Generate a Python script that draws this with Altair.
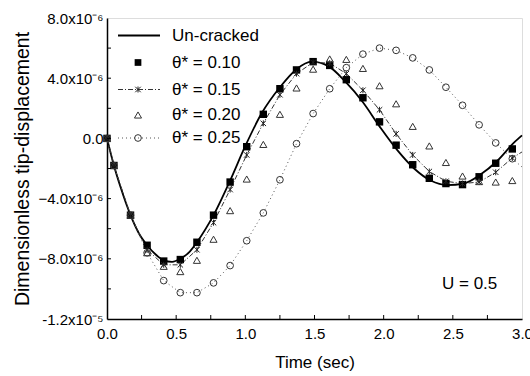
import altair as alt
import pandas as pd

# time of the plotted markers (sec)
T_MARK = [0.0, 0.05, 0.17, 0.29, 0.41, 0.53, 0.65, 0.77, 0.89, 1.01, 1.13, 1.25, 1.37,
          1.49, 1.61, 1.73, 1.85, 1.97, 2.09, 2.21, 2.33, 2.45, 2.57, 2.69, 2.81, 2.93]

# values in units of 1e-6
Y_010 = [0.0, -1.8, -5.1, -7.1, -8.15, -8.05, -6.9, -5.1, -2.9, -0.55, 1.6, 3.3, 4.55,
         5.1, 4.85, 3.9, 2.7, 1.1, -0.45, -1.75, -2.65, -3.0, -3.07, -2.55, -1.65, -0.7]
Y_015 = [0.0, -1.8, -5.1, -7.4, -8.4, -8.4, -7.4, -5.6, -3.4, -1.1, 1.0, 2.9, 4.3,
         5.05, 5.0, 4.3, 3.2, 1.9, 0.3, -1.1, -2.2, -2.85, -3.0, -2.9, -2.25, -1.3]
Y_020 = [0.0, -1.8, -5.1, -7.6, -8.5, -8.85, -8.1, -6.7, -4.8, -2.7, -0.4, 1.6, 3.35,
         4.6, 5.28, 5.25, 4.65, 3.5, 2.3, 0.8, -0.5, -1.6, -2.5, -2.87, -2.9, -2.8]
Y_025 = [0.0, -1.8, -5.1, -7.6, -9.45, -10.25, -10.25, -9.6, -8.45, -6.8, -4.95, -2.75, -0.35,
         1.65, 3.3, 4.7, 5.6, 6.0, 5.85, 5.35, 4.55, 3.4, 2.2, 0.9, -0.3, -1.35]
END_015 = -0.9
END_025 = -1.9

T_UNC = [0.0, 0.05, 0.1, 0.17, 0.23, 0.29, 0.35, 0.41, 0.47, 0.53, 0.6, 0.65, 0.77, 0.89,
         1.0, 1.12, 1.25, 1.37, 1.48, 1.6, 1.72, 1.85, 1.97, 2.1, 2.22, 2.34, 2.46, 2.58,
         2.7, 2.82, 2.94, 3.0]
Y_UNC = [0.0, -1.8, -3.3, -5.1, -6.3, -7.1, -7.7, -8.1, -8.2, -8.0, -7.5, -6.9, -5.1, -2.8,
         -0.5, 1.7, 3.4, 4.6, 5.1, 4.8, 3.8, 2.4, 0.8, -0.8, -2.0, -2.8, -3.1, -3.0,
         -2.4, -1.5, -0.3, 0.2]

X_TICKS = [0.0, 0.5, 1.0, 1.5, 2.0, 2.5, 3.0]
X_MINOR = [0.25, 0.5, 0.75, 1.0, 1.25, 1.5, 1.75, 2.0, 2.25, 2.5, 2.75]
Y_TICKS = [-12, -8, -4, 0, 4, 8]
Y_MINOR = [-10, -8, -6, -4, -2, 0, 2, 4, 6]

LEGEND = ["Un-cracked", "θ* = 0.10", "θ* = 0.15", "θ* = 0.20", "θ* = 0.25"]

W, H = 415, 301
FONT = "Liberation Sans"
ASTER = "M-1,-1L1,1M-1,1L1,-1M0,-1.1L0,1.1"

unc = pd.DataFrame({"t": T_UNC, "y": Y_UNC})
m010 = pd.DataFrame({"t": T_MARK, "y": Y_010})
m015 = pd.DataFrame({"t": T_MARK, "y": Y_015})
m020 = pd.DataFrame({"t": T_MARK, "y": Y_020})
m025 = pd.DataFrame({"t": T_MARK, "y": Y_025})
l015 = pd.DataFrame({"t": T_MARK + [3.0], "y": Y_015 + [END_015]})
l025 = pd.DataFrame({"t": T_MARK + [3.0], "y": Y_025 + [END_025]})

xs = alt.Scale(domain=[0, 3], nice=False, zero=False)
ys = alt.Scale(domain=[-12, 8], nice=False, zero=False)

y_label = ("datum.value == 0 ? '0.0' : datum.value == -12 ? '-1.2x10⁻⁵' : "
           "format(datum.value, '.1f') + 'x10⁻⁶'")

X = alt.X("t:Q", scale=xs, axis=alt.Axis(
    values=X_TICKS, format=".1f", tickSize=0, grid=False, title="Time (sec)",
    labelFontSize=15, titleFontSize=17, labelPadding=7, titlePadding=13,
    domainColor="black", domainWidth=1.5, labelColor="black", titleColor="black",
    titleFontWeight="normal", labelFont=FONT, titleFont=FONT, labelFlush=False))
Y = alt.Y("y:Q", scale=ys, axis=alt.Axis(
    values=Y_TICKS, labelExpr=y_label, tickSize=0, grid=False,
    title="Dimensionless tip-displacement", labelFontSize=15, titleFontSize=19.5,
    labelPadding=4, titlePadding=6, domainColor="black", domainWidth=1.5,
    labelColor="black", titleColor="black", titleFontWeight="normal",
    labelFont=FONT, titleFont=FONT, labelFlush=False))
Xn = alt.X("t:Q", scale=xs)
Yn = alt.Y("y:Q", scale=ys)

layers = []
layers.append(alt.Chart(unc).mark_line(color="black", strokeWidth=1.8,
                                       interpolate="monotone").encode(x=X, y=Y))
layers.append(alt.Chart(l015).mark_line(color="#333", strokeWidth=1,
                                        strokeDash=[5, 2, 1, 2]).encode(x=Xn, y=Yn))
layers.append(alt.Chart(l025).mark_line(color="#555", strokeWidth=1,
                                        strokeDash=[1, 3]).encode(x=Xn, y=Yn))
layers.append(alt.Chart(m010).mark_point(shape="square", filled=True, color="black",
                                         size=55, opacity=1).encode(x=Xn, y=Yn))
layers.append(alt.Chart(m015).mark_point(shape=ASTER, filled=False, color="#222",
                                         size=30, strokeWidth=1, opacity=1).encode(x=Xn, y=Yn))
layers.append(alt.Chart(m020).mark_point(shape="triangle-up", filled=False, color="#333",
                                         size=50, strokeWidth=1, opacity=1).encode(x=Xn, y=Yn))
layers.append(alt.Chart(m025).mark_point(shape="circle", filled=False, color="#333",
                                         size=45, strokeWidth=1, opacity=1).encode(x=Xn, y=Yn))

# minor / major inward ticks
xt = pd.DataFrame({"t": X_MINOR})
yt = pd.DataFrame({"y": Y_MINOR})
layers.append(alt.Chart(xt).mark_rule(color="black", strokeWidth=1).encode(
    x=Xn, y=alt.value(H), y2=alt.value(H - 4)))
layers.append(alt.Chart(yt).mark_rule(color="black", strokeWidth=1).encode(
    y=Yn, x=alt.value(0), x2=alt.value(4)))

# legend
rows = [17.5, 44.5, 71.5, 97, 120]
lx0, lx1, sx, tx = 11, 53, 31, 65
one = pd.DataFrame({"k": [0]})
layers.append(alt.Chart(one).mark_rule(color="black", strokeWidth=1.8).encode(
    x=alt.value(lx0), x2=alt.value(lx1), y=alt.value(rows[0])))
layers.append(alt.Chart(one).mark_rule(color="#333", strokeWidth=1, strokeDash=[5, 2, 1, 2]).encode(
    x=alt.value(lx0), x2=alt.value(lx1), y=alt.value(rows[2])))
layers.append(alt.Chart(one).mark_rule(color="#555", strokeWidth=1, strokeDash=[1, 3]).encode(
    x=alt.value(lx0), x2=alt.value(lx1), y=alt.value(rows[4])))
layers.append(alt.Chart(one).mark_point(shape="square", filled=True, color="black",
                                        size=45, opacity=1).encode(x=alt.value(sx), y=alt.value(rows[1])))
layers.append(alt.Chart(one).mark_point(shape=ASTER, filled=False, color="#222", size=30,
                                        strokeWidth=1, opacity=1).encode(x=alt.value(sx), y=alt.value(rows[2])))
layers.append(alt.Chart(one).mark_point(shape="triangle-up", filled=False, color="#333", size=50,
                                        strokeWidth=1, opacity=1).encode(x=alt.value(sx), y=alt.value(rows[3])))
layers.append(alt.Chart(one).mark_point(shape="circle", filled=False, color="#333", size=45,
                                        strokeWidth=1, opacity=1).encode(x=alt.value(sx), y=alt.value(rows[4])))
for lab, ry in zip(LEGEND, rows):
    layers.append(alt.Chart(one).mark_text(align="left", baseline="middle", fontSize=17,
                                           font=FONT, color="black").encode(
        x=alt.value(tx), y=alt.value(ry), text=alt.value(lab)))

layers.append(alt.Chart(one).mark_text(align="left", baseline="middle", fontSize=17,
                                       font=FONT, color="black").encode(
    x=alt.value(335), y=alt.value(266), text=alt.value("U = 0.5")))

chart = alt.layer(*layers).properties(
    width=W, height=H,
    autosize=alt.AutoSizeParams(type="none"),
    padding={"left": 107, "top": 18, "right": 8, "bottom": 57},
).configure_view(stroke="black", strokeWidth=1.5).configure(background="white")

chart.save("out.html", embed_options={"renderer": "svg", "actions": False})
